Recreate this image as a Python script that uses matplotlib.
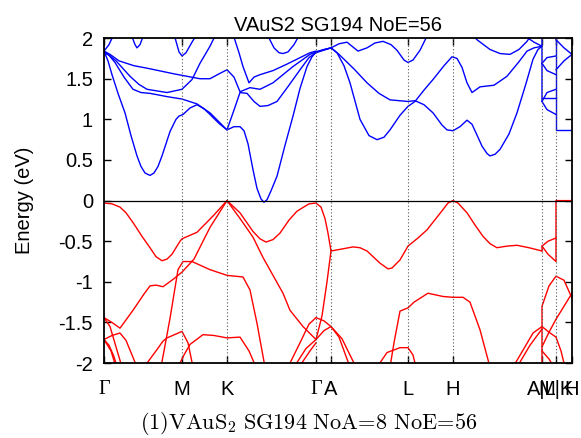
import matplotlib
matplotlib.use('Agg')
import matplotlib.pyplot as plt

# high-symmetry path (k in path units)
kticks = [0.0, 0.78, 1.23, 2.12, 2.27, 3.04, 3.49, 4.38, 4.52, 4.68]
klabels = ['Γ', 'M', 'K', 'Γ', 'A', 'L', 'H', 'A|L', 'M|K', 'H']

# conduction bands (k, E in eV)
cb1 = [(0.0, 1.84), (0.04, 1.72), (0.08, 1.55), (0.14, 1.32), (0.21, 1.08), (0.27, 0.80),
       (0.33, 0.55), (0.37, 0.42), (0.41, 0.34), (0.46, 0.31), (0.50, 0.34), (0.54, 0.42),
       (0.58, 0.55), (0.66, 0.85), (0.72, 1.00), (0.75, 1.04), (0.79, 1.06), (0.86, 1.14),
       (0.93, 1.18), (1.0, 1.13), (1.06, 1.06), (1.15, 0.95), (1.23, 0.87), (1.30, 0.91),
       (1.36, 0.91), (1.40, 0.86), (1.44, 0.70), (1.49, 0.38), (1.53, 0.15), (1.57, 0.02),
       (1.60, -0.02), (1.63, 0.01), (1.67, 0.12), (1.73, 0.30), (1.81, 0.68), (1.89, 1.04),
       (1.96, 1.38), (2.03, 1.65), (2.08, 1.77), (2.12, 1.83), (2.20, 1.86), (2.27, 1.88)]
cb2 = [(0.0, 1.82), (0.05, 1.79), (0.11, 1.70), (0.20, 1.52), (0.29, 1.37), (0.37, 1.33),
       (0.46, 1.32), (0.63, 1.28), (0.78, 1.25), (0.93, 1.19), (1.06, 1.08), (1.23, 0.87),
       (1.31, 1.15), (1.36, 1.33), (1.43, 1.32), (1.50, 1.22), (1.56, 1.16), (1.64, 1.17),
       (1.73, 1.22), (1.85, 1.42), (1.96, 1.61), (2.05, 1.76), (2.12, 1.82), (2.27, 1.88)]
cb3 = [(0.0, 1.84), (0.06, 1.80), (0.15, 1.72), (0.30, 1.66), (0.43, 1.63), (0.70, 1.56),
       (0.96, 1.50), (1.06, 1.50), (1.15, 1.56), (1.23, 1.61), (1.30, 1.52), (1.36, 1.34),
       (1.46, 1.39), (1.56, 1.37), (1.69, 1.45), (1.89, 1.65), (2.06, 1.80), (2.12, 1.83),
       (2.27, 1.88)]
cb4 = [(0.0, 1.84), (0.12, 1.72), (0.26, 1.53), (0.35, 1.43), (0.43, 1.37), (0.63, 1.33),
       (0.78, 1.37), (0.88, 1.49), (0.96, 1.69), (1.06, 1.90), (1.12, 2.05)]
cb5 = [(1.29, 2.05), (1.35, 1.82), (1.39, 1.65), (1.45, 1.45), (1.50, 1.52), (1.56, 1.55),
       (1.69, 1.60), (1.83, 1.68), (2.06, 1.82), (2.12, 1.84)]
cb6 = [(1.63, 2.05), (1.70, 1.88), (1.75, 1.82), (1.79, 1.81), (1.84, 1.83), (1.90, 1.92),
       (1.96, 2.05)]
cb7 = [(0.0, 1.84), (0.05, 1.92), (0.10, 2.05)]
cb8 = [(0.27, 2.05), (0.31, 1.92), (0.33, 1.88), (0.36, 1.92), (0.40, 2.05)]
cb9 = [(0.70, 2.05), (0.75, 1.83), (0.78, 1.78), (0.82, 1.82), (0.88, 1.95), (0.93, 2.05)]
cb10 = [(2.27, 1.88), (2.35, 1.93), (2.43, 1.95), (2.54, 1.84), (2.63, 1.88), (2.71, 1.94),
        (2.79, 1.96), (2.87, 1.92), (2.93, 1.85), (3.00, 1.73), (3.04, 1.70), (3.09, 1.73),
        (3.16, 1.85), (3.24, 2.05)]
cb11 = [(2.27, 1.88), (2.33, 1.82), (2.40, 1.66), (2.46, 1.45), (2.56, 1.00), (2.65, 0.80),
        (2.73, 0.75), (2.80, 0.78), (2.86, 0.87), (2.96, 1.05), (3.04, 1.16), (3.11, 1.22),
        (3.20, 1.36), (3.29, 1.49), (3.40, 1.66), (3.48, 1.77), (3.53, 1.75), (3.58, 1.64),
        (3.63, 1.45), (3.68, 1.33), (3.76, 1.40), (3.90, 1.42), (4.03, 1.53), (4.15, 1.71),
        (4.23, 1.84), (4.30, 1.88), (4.38, 1.90)]
cb12 = [(2.27, 1.88), (2.35, 1.80), (2.50, 1.62), (2.63, 1.45), (2.75, 1.32), (2.86, 1.24),
        (3.04, 1.22), (3.11, 1.23), (3.20, 1.18), (3.29, 1.08), (3.38, 0.93), (3.43, 0.87),
        (3.49, 0.86), (3.56, 0.91), (3.63, 0.99), (3.68, 0.94), (3.74, 0.78), (3.78, 0.67),
        (3.83, 0.58), (3.86, 0.55), (3.91, 0.57), (3.96, 0.63), (4.05, 0.82), (4.13, 1.08),
        (4.22, 1.44), (4.29, 1.74), (4.34, 1.86), (4.38, 1.90)]
cb13 = [(3.68, 2.05), (3.73, 1.98), (3.86, 1.86), (3.96, 1.81), (4.06, 1.80), (4.15, 1.86),
        (4.23, 1.96), (4.28, 2.05)]
cb14 = [(4.18, 2.05), (4.30, 1.95), (4.38, 1.90)]
cb15 = [(4.38, 2.05), (4.38, 1.22), (4.43, 1.12), (4.52, 1.06)]
cb16 = [(4.38, 1.69), (4.43, 1.76), (4.52, 1.78)]
cb17 = [(4.38, 1.69), (4.43, 1.60), (4.52, 1.55)]
cb18 = [(4.38, 1.22), (4.43, 1.33), (4.52, 1.37)]
cb19 = [(4.38, 1.26), (4.52, 1.26)]
cb20 = [(4.52, 2.05), (4.52, 0.87), (4.68, 0.87)]
cb21 = [(4.52, 1.98), (4.60, 1.88), (4.68, 1.80)]
cb22 = [(4.52, 1.61), (4.60, 1.72), (4.68, 1.80)]

# valence bands (k, E in eV)
vb1 = [(0.0, -0.03), (0.08, -0.04), (0.16, -0.08), (0.22, -0.15), (0.29, -0.27), (0.38, -0.44),
       (0.46, -0.58), (0.52, -0.69), (0.58, -0.74), (0.63, -0.72), (0.68, -0.66), (0.76, -0.50),
       (0.78, -0.47), (0.93, -0.39), (1.09, -0.19), (1.23, 0.0), (1.36, -0.15), (1.49, -0.38),
       (1.56, -0.47), (1.62, -0.51), (1.69, -0.48), (1.76, -0.40), (1.85, -0.24), (1.93, -0.13),
       (2.05, -0.04), (2.12, -0.03), (2.17, -0.08), (2.21, -0.22), (2.24, -0.40), (2.27, -0.62),
       (2.36, -0.60), (2.49, -0.57), (2.56, -0.58), (2.63, -0.62), (2.76, -0.77), (2.84, -0.84),
       (2.88, -0.83), (2.96, -0.73), (3.04, -0.56), (3.14, -0.46), (3.23, -0.36), (3.32, -0.22),
       (3.39, -0.11), (3.44, -0.03), (3.49, 0.0), (3.54, -0.03), (3.63, -0.15), (3.71, -0.30),
       (3.79, -0.44), (3.86, -0.53), (3.93, -0.58), (4.03, -0.56), (4.13, -0.55), (4.25, -0.58),
       (4.38, -0.62)]
vb2 = [(0.0, -1.44), (0.08, -1.50), (0.16, -1.57), (0.29, -1.35), (0.40, -1.15), (0.46, -1.05),
       (0.52, -1.04), (0.59, -1.06), (0.69, -0.97), (0.78, -0.88), (0.90, -0.72), (1.06, -0.33),
       (1.23, 0.0), (1.36, -0.22), (1.49, -0.45), (1.59, -0.70), (1.79, -1.14), (1.86, -1.35),
       (1.99, -1.55), (2.12, -1.71), (2.18, -1.42), (2.23, -1.0), (2.27, -0.62)]
vb3 = [(0.57, -2.05), (0.66, -1.45), (0.74, -0.85), (0.79, -0.75), (0.88, -0.75), (1.06, -0.85),
       (1.23, -0.92), (1.39, -0.94), (1.46, -1.10), (1.53, -1.51), (1.61, -2.05)]
vb4 = [(0.0, -1.71), (0.08, -1.66), (0.16, -1.63), (0.22, -1.72), (0.33, -2.05)]
vb5 = [(0.40, -2.05), (0.52, -1.85), (0.59, -1.73), (0.63, -1.69), (0.78, -1.61), (0.84, -1.75),
       (0.89, -2.05)]
vb6 = [(0.74, -2.05), (0.80, -1.90), (0.86, -1.77), (0.99, -1.65), (1.10, -1.66), (1.23, -1.69),
       (1.36, -1.68), (1.45, -1.85), (1.52, -2.05)]
vb7 = [(0.0, -1.44), (0.06, -1.55), (0.12, -1.80), (0.18, -2.05)]
vb8 = [(0.0, -1.71), (0.05, -1.78), (0.10, -1.92), (0.13, -2.05)]
vb9 = [(0.0, -1.71), (0.07, -1.85), (0.12, -2.05)]
vb10 = [(1.84, -2.05), (1.96, -1.75), (2.05, -1.52), (2.12, -1.44), (2.20, -1.48), (2.27, -1.55),
        (2.35, -1.68), (2.46, -2.05)]
vb11 = [(1.90, -2.05), (2.02, -1.82), (2.12, -1.71), (2.20, -1.60), (2.27, -1.55), (2.38, -1.70),
        (2.52, -2.05)]
vb12 = [(1.95, -2.05), (2.06, -1.85), (2.12, -1.75)]
vb13 = [(2.86, -2.05), (2.90, -1.75), (2.96, -1.36), (3.04, -1.32), (3.10, -1.25), (3.24, -1.14),
        (3.39, -1.18), (3.49, -1.19), (3.59, -1.19), (3.66, -1.25), (3.76, -1.59), (3.86, -2.05)]
vb14 = [(2.73, -2.05), (2.83, -1.87), (2.96, -1.81), (3.04, -1.81), (3.09, -1.90), (3.12, -2.05)]
vb15 = [(4.09, -2.05), (4.20, -1.82), (4.29, -1.63), (4.38, -1.55)]
vb16 = [(4.13, -2.05), (4.26, -1.78), (4.38, -1.58)]
vb17 = [(4.38, -0.62), (4.38, -0.56), (4.44, -0.66), (4.52, -0.75), (4.52, 0.0), (4.68, 0.0)]
vb18 = [(4.38, -0.56), (4.44, -0.50), (4.52, -0.46)]
vb19 = [(4.38, -2.05), (4.38, -1.30), (4.45, -1.05), (4.52, -0.93), (4.60, -0.98), (4.68, -1.20)]
vb20 = [(4.38, -1.55), (4.45, -1.62), (4.52, -1.68), (4.57, -1.85), (4.61, -2.05)]
vb21 = [(4.38, -1.80), (4.45, -1.62), (4.52, -1.46), (4.60, -1.30), (4.68, -1.14)]
vb22 = [(4.38, -1.85), (4.45, -1.95), (4.50, -2.05)]

conduction = [cb1, cb2, cb3, cb4, cb5, cb6, cb7, cb8, cb9, cb10, cb11, cb12, cb13, cb14,
              cb15, cb16, cb17, cb18, cb19, cb20, cb21, cb22]
valence = [vb1, vb2, vb3, vb4, vb5, vb6, vb7, vb8, vb9, vb10, vb11, vb12, vb13, vb14,
           vb15, vb16, vb17, vb18, vb19, vb20, vb21, vb22]

plt.rcParams['font.family'] = ['Liberation Sans', 'DejaVu Sans']
plt.rcParams['mathtext.fontset'] = 'cm'

fig = plt.figure(figsize=(5.81, 4.38), dpi=100)
ax = fig.add_axes([0.179, 0.171, 0.8055, 0.742])

for band in conduction:
    k, e = zip(*band)
    ax.plot(k, e, color='#0000ff', lw=1.0)
for band in valence:
    k, e = zip(*band)
    ax.plot(k, e, color='#ff0000', lw=1.0)

for kx in kticks[1:-1]:
    ax.axvline(kx, color='#555555', lw=0.8, ls=(0, (1, 2)))
ax.axhline(0, color='black', lw=0.9)

ax.set_xlim(kticks[0], kticks[-1])
ax.set_ylim(-2, 2)
ax.set_xticks(kticks)
ax.set_xticklabels(klabels, fontsize=14.5)
yt = [2, 1.5, 1, 0.5, 0, -0.5, -1, -1.5, -2]
ax.set_yticks(yt)
ax.set_yticklabels(['%g' % v for v in yt], fontsize=14.5)
ax.tick_params(direction='in', top=True, right=True, length=5, width=1)
ax.tick_params(axis='x', pad=12)
ax.tick_params(axis='y', pad=8)
for lab in ax.get_xticklabels():
    if lab.get_text() == 'Γ':
        lab.set_fontfamily('Liberation Serif')
for sp in ax.spines.values():
    sp.set_linewidth(1.3)

ax.set_title('VAuS2 SG194 NoE=56', fontsize=14.5, pad=5)
fig.text(0.043, 0.543, 'Energy (eV)', rotation=90, va='center', ha='center', fontsize=14.5)
fig.text(0.532, 0.032, r'$\mathrm{(1)VAuS_2\ SG194\ NoA\!=\!8\ NoE\!=\!56}$',
         ha='center', va='center', fontsize=16)

fig.savefig('out.png', dpi=100)
